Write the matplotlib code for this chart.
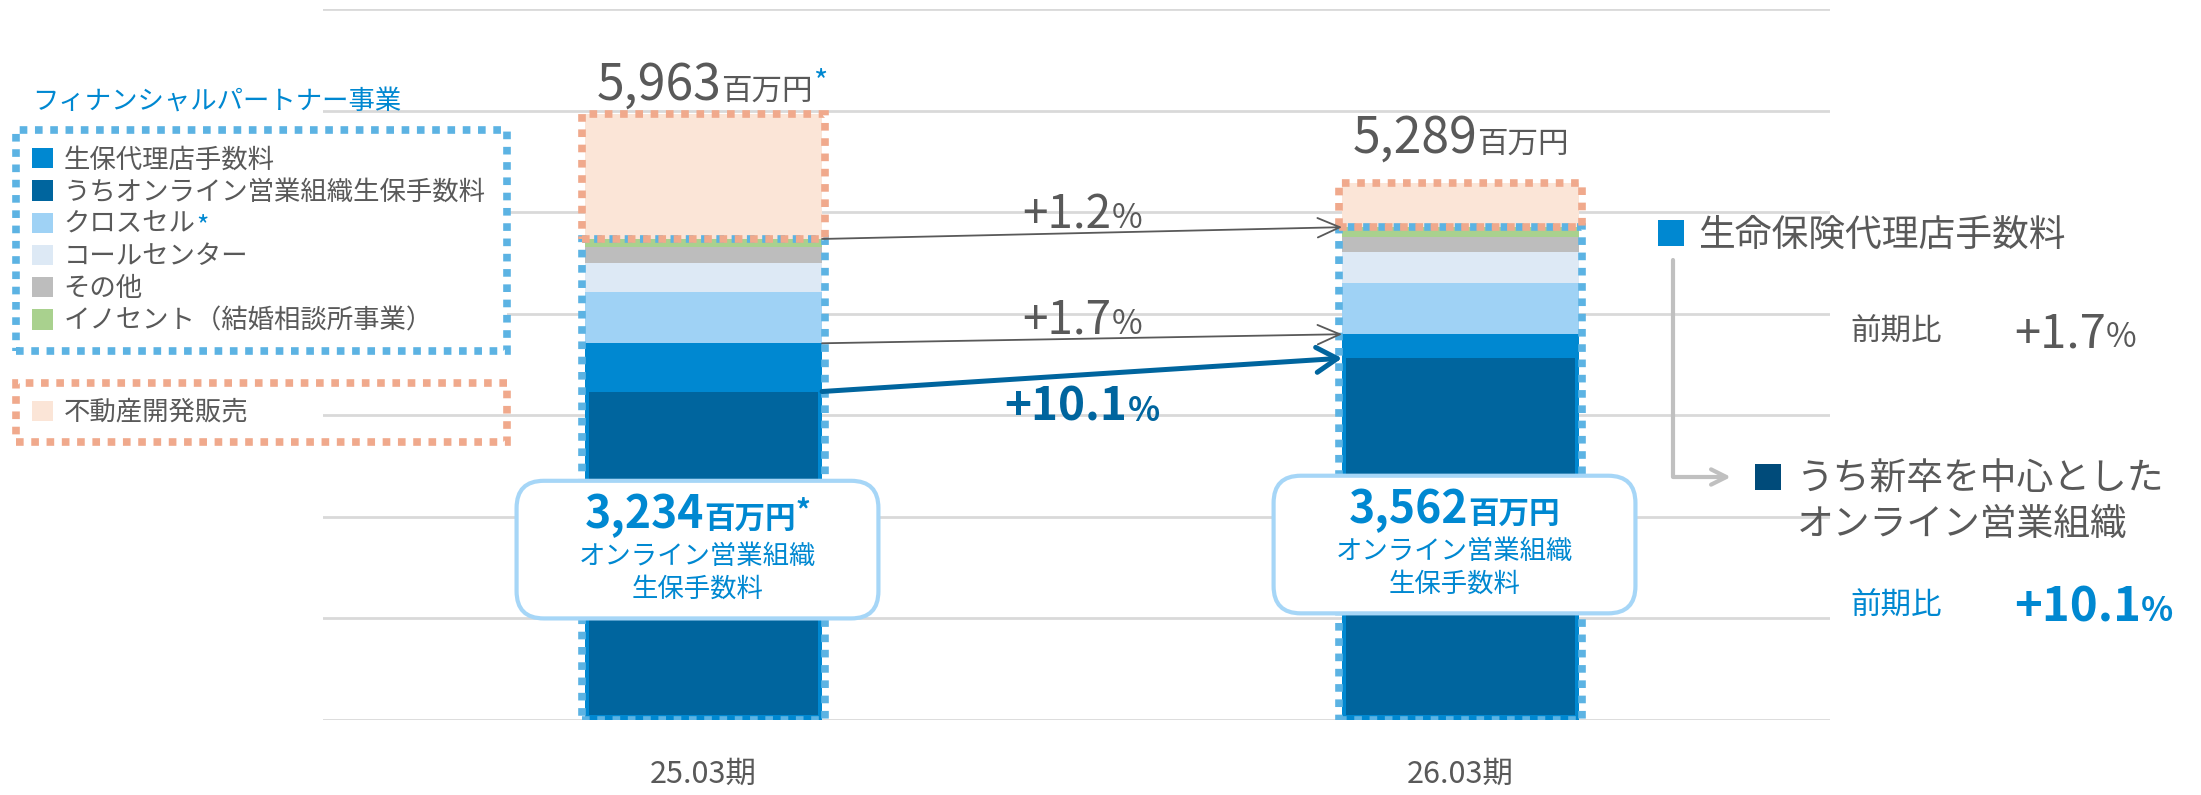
import numpy as np
import matplotlib
matplotlib.use('Agg')
import matplotlib.pyplot as plt
import matplotlib.transforms as mtransforms
from matplotlib.patches import Patch, FancyBboxPatch, Rectangle

plt.rcParams['font.family'] = ['Noto Sans CJK JP', 'DejaVu Sans']

W, H = 2201, 795

# ── data (百万円) ──
periods = ['25.03期', '26.03期']
totals = [5963, 5289]
agency = [3709, 3798]        # 生保代理店手数料
online = [3234, 3562]        # うちオンライン営業組織生保手数料
cross_sell = [509, 502]
call_center = [285, 311]
other = [152, 142]
innocent = [81, 99]
real_estate = [1227, 437]
total_marks = ['*', '']
online_marks = ['*', '']
growth = ['+1.2', '+1.7', '+10.1']

fp_labels = ['生保代理店手数料', 'うちオンライン営業組織生保手数料', 'クロスセル',
             'コールセンター', 'その他', 'イノセント（結婚相談所事業）']
re_label = '不動産開発販売'

C_AGENCY = '#0088d1'
C_ONLINE = '#00659e'
C_CROSS = '#9fd2f5'
C_CALL = '#dde9f5'
C_OTHER = '#bdbdbd'
C_INNO = '#a9d18e'
C_RE = '#fbe5d7'
DOT_BLUE = '#5cb3e3'
DOT_PINK = '#f0a98c'
GRAY = '#595959'
BLUE = '#0088d1'

fig = plt.figure(figsize=(W / 100, H / 100), dpi=100)
ax = fig.add_axes([323 / W, 1 - 720 / H, (1830 - 323) / W, (720 - 9) / H])
ax.set_xlim(-0.5027, 1.488)
ax.set_ylim(0, 7000)
ax.set_yticks(np.arange(0, 7001, 1000))
ax.grid(axis='y', color='#d9d9d9', lw=2)
ax.set_axisbelow(True)
for s in ax.spines.values():
    s.set_visible(False)
ax.tick_params(axis='y', length=0, labelleft=False)

x = np.arange(len(periods))
bw = 0.313
ax.set_xticks(x, periods, fontsize=22, color=GRAY)
ax.tick_params(axis='x', length=0, pad=28)

# ── stacked bars ──
bottom = np.zeros(len(x))
for vals, c in [(agency, C_AGENCY), (cross_sell, C_CROSS), (call_center, C_CALL),
                (other, C_OTHER), (innocent, C_INNO)]:
    ax.bar(x, vals, bw, bottom=bottom, color=c, lw=0, zorder=2)
    bottom += vals
fp_total = bottom.copy()
ax.bar(x, real_estate, bw, bottom=fp_total, color=C_RE, lw=0, zorder=2)

# online part drawn slightly inset inside the agency bar
ax.bar(x, np.array(online) - 45, bw - 0.011, bottom=45, color=C_ONLINE, lw=0, zorder=3)

# dotted group outlines
ax.bar(x, fp_total, bw + 0.008, fill=False, edgecolor=DOT_BLUE, lw=5.5,
       ls=(0, (1, 1)), zorder=4)
ax.bar(x, real_estate, bw + 0.008, bottom=fp_total, fill=False, edgecolor=DOT_PINK,
       lw=5.5, ls=(0, (1, 1)), zorder=4)

# ── growth arrows ──
x_from, x_to = x[0] + bw / 2, x[1] - bw / 2
pairs = [(fp_total, GRAY, 1.3, '->,head_length=1.6,head_width=0.7'),
         (agency, GRAY, 1.3, '->,head_length=1.6,head_width=0.7'),
         (online, C_ONLINE, 3.6, '->,head_length=1.5,head_width=0.9')]
for vals, c, lw, style in pairs:
    ax.annotate('', xy=(x_to, vals[1]), xytext=(x_from, vals[0]),
                arrowprops=dict(arrowstyle=style, color=c, lw=lw, shrinkA=0, shrinkB=0),
                zorder=5)

# ── callout boxes ──
x_per_px = (ax.get_xlim()[1] - ax.get_xlim()[0]) / (1830 - 323)
y_per_px = 7000 / (720 - 9)
aspect = y_per_px / x_per_px
box_w = 0.478
box_y = [(1000, 2355), (1050, 2405)]
for i, (y0, y1) in enumerate(box_y):
    ax.add_patch(FancyBboxPatch((x[i] - 0.008 - box_w / 2, y0), box_w, y1 - y0,
                                boxstyle='round,pad=0,rounding_size=0.036',
                                mutation_aspect=aspect, fc='white', ec='#a6d6f7',
                                lw=3, zorder=6))

# ── text helpers ──
renderer = fig.canvas.get_renderer()
IDENT = mtransforms.IdentityTransform()


def rich(xd, yd, parts, ha='center'):
    """Draw text runs of mixed size on a shared baseline at display (xd, yd)."""
    arts, total = [], 0.0
    for s, size, color, weight, rise in parts:
        t = fig.text(0, 0, s, fontsize=size, color=color, fontweight=weight,
                     ha='left', va='baseline', transform=IDENT, zorder=8)
        w = t.get_window_extent(renderer).width
        arts.append((t, w, rise))
        total += w
    x0 = xd - total / 2 if ha == 'center' else xd
    for t, w, rise in arts:
        t.set_position((x0, yd + rise))
        x0 += w


def data_px(xv, yv):
    return ax.transData.transform((xv, yv))


# totals above bars
label_gap = [15, 30]
label_shift = [8, 0]
for i in range(len(x)):
    px, py = data_px(x[i], totals[i])
    rich(px + label_shift[i], py + label_gap[i],
         [(f'{totals[i]:,}', 36, GRAY, 'normal', 0),
          ('百万円', 22, GRAY, 'normal', 0),
          (total_marks[i], 22, BLUE, 'normal', 8)])

# growth labels between bars
growth_gap = [5, 5, -46]
growth_style = [(GRAY, 'normal'), (GRAY, 'normal'), (C_ONLINE, 'bold')]
for (vals, _, _, _), g, gap, (c, wgt) in zip(pairs, growth, growth_gap, growth_style):
    px, py = data_px(0.5, (vals[0] + vals[1]) / 2)
    rich(px, py + gap, [(g, 33, c, wgt, 0), ('%', 24, c, wgt, 0)])

# callout box texts
for i, (y0, y1) in enumerate(box_y):
    px, py = data_px(x[i] - 0.008, y1)
    rich(px, py - 47, [(f'{online[i]:,}', 32, BLUE, 'bold', 0),
                       ('百万円', 22, BLUE, 'bold', 0),
                       (online_marks[i], 21, BLUE, 'bold', 7)])
    rich(px, py - 83, [('オンライン営業組織', 19, BLUE, 'normal', 0)])
    rich(px, py - 116, [('生保手数料', 19, BLUE, 'normal', 0)])

# ── legends ──
fp_colors = [C_AGENCY, C_ONLINE, C_CROSS, C_CALL, C_OTHER, C_INNO]
leg_kw = dict(loc='upper left', mode='expand', fontsize=19, labelcolor=GRAY,
              handlelength=0.8, handleheight=0.8, handletextpad=0.4,
              borderpad=0.6, labelspacing=0.2, borderaxespad=0,
              fancybox=False, framealpha=1)
leg1 = fig.legend([Patch(fc=c, ec='none') for c in fp_colors], fp_labels,
                  bbox_to_anchor=(16 / W, 1 - 130.5 / H, 490.5 / W, 0), **leg_kw)
f = leg1.get_frame()
f.set_edgecolor(DOT_BLUE)
f.set_linewidth(5.5)
f.set_linestyle((0, (1, 1)))
f.set_facecolor('white')

leg2 = fig.legend([Patch(fc=C_RE, ec='none')], [re_label],
                  bbox_to_anchor=(16 / W, 1 - 383 / H, 490.5 / W, 0), **leg_kw)
f = leg2.get_frame()
f.set_edgecolor(DOT_PINK)
f.set_linewidth(5.5)
f.set_linestyle((0, (1, 1)))
f.set_facecolor('none')

fig.text(32, H - 101, 'フィナンシャルパートナー事業', fontsize=19, color=BLUE,
         ha='left', va='center', transform=IDENT)

fig.canvas.draw()
bb = leg1.get_texts()[2].get_window_extent(renderer)
fig.text(bb.x1 + 1, bb.y1 - 2, '*', fontsize=19, color=BLUE, ha='left', va='top',
         transform=IDENT, zorder=10)

# ── right-hand notes ──
for (sx, sy, c) in [(1658, 220, C_AGENCY), (1755, 464, '#004b7a')]:
    fig.add_artist(Rectangle((sx, H - sy - 26), 26, 26, fc=c, ec='none', transform=IDENT))

rich(1698, H - 246, [('生命保険代理店手数料', 26.5, GRAY, 'normal', 0)], ha='left')
rich(1850, H - 341, [('前期比', 22, GRAY, 'normal', 0)], ha='left')
rich(2014, H - 347, [(growth[1], 34, GRAY, 'normal', 0), ('%', 24, GRAY, 'normal', 0)], ha='left')
rich(1797, H - 490, [('うち新卒を中心とした', 26.5, GRAY, 'normal', 0)], ha='left')
rich(1797, H - 535, [('オンライン営業組織', 26.5, GRAY, 'normal', 0)], ha='left')
rich(1850, H - 615, [('前期比', 22, BLUE, 'normal', 0)], ha='left')
rich(2014, H - 621, [(growth[2], 34, BLUE, 'bold', 0), ('%', 24, BLUE, 'bold', 0)], ha='left')

ax.annotate('', xy=(1731, H - 477), xytext=(1673, H - 260), xycoords='figure pixels',
            textcoords='figure pixels', annotation_clip=False,
            arrowprops=dict(arrowstyle='->,head_length=1.1,head_width=0.55',
                            connectionstyle='angle,angleA=90,angleB=0,rad=0',
                            color='#c0c0c0', lw=3, shrinkA=0, shrinkB=0))

fig.savefig('out.png', dpi=100)
